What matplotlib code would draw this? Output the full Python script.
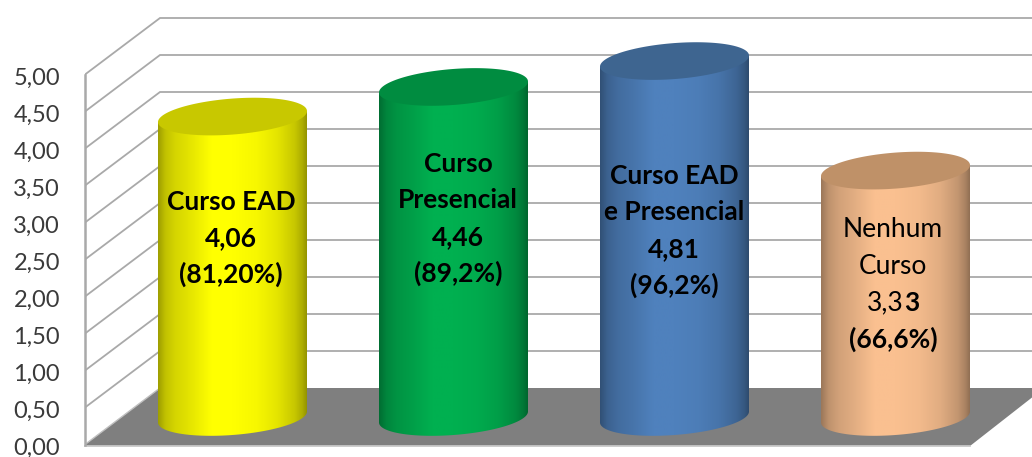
import numpy as np
import matplotlib
matplotlib.use("Agg")
import matplotlib.pyplot as plt
from matplotlib.patches import Polygon
from matplotlib.transforms import ScaledTranslation

# --- data
categories = ["Curso EAD", "Curso Presencial", "Curso EAD e Presencial", "Nenhum Curso"]
values = [4.06, 4.46, 4.81, 3.33]
tick_values = [0, .5, 1, 1.5, 2, 2.5, 3, 3.5, 4, 4.5, 5]
tick_labels = ["0,00", "0,50", "1,00", "1,50", "2,00", "2,50", "3,00", "3,50", "4,00", "4,50", "5,00"]
side_colors = ["#ffff00", "#00b050", "#4f81bd", "#fac090"]
top_colors = ["#c8c800", "#008c40", "#3e6590", "#bf9168"]
label_lines = [
    [("Curso EAD", "bold"), ("4,06", "bold"), ("(81,20%)", "bold")],
    [("Curso", "bold"), ("Presencial", "bold"), ("4,46", "bold"), ("(89,2%)", "bold")],
    [("Curso EAD", "bold"), ("e Presencial", "bold"), ("4,81", "bold"), ("(96,2%)", "bold")],
    [("Nenhum", "normal"), ("Curso", "normal"), ("3,33", "mixed"), ("(66,6%)", "bold")],
]

# --- layout (pixels of the 1032x457 picture)
W, H = 1032, 457
LEFT = 85
X0, XU = 232.5, 221.0      # first category centre, pixels per category
Y0, YU = 444.5, 74.0       # value 0 on the front edge, pixels per unit
DX, DY = 75.0, 56.5        # depth of the chart box
FONT = "Lato"

plt.rcParams["font.family"] = [FONT, "DejaVu Sans"]
fig = plt.figure(figsize=(W / 100, H / 100), dpi=100, facecolor="white")
ax = fig.add_axes([LEFT / W, 0, (W - LEFT) / W, 1])
ax.set_xlim((LEFT - X0) / XU, (W - X0) / XU)
ax.set_ylim((Y0 - H) / YU, Y0 / YU)
for s in ax.spines.values():
    s.set_visible(False)
ax.set_xticks([])
ax.set_yticks(tick_values)
ax.set_yticklabels(tick_labels, fontsize=17, color="#3a3a3a")
ax.tick_params(axis="y", length=0, pad=18)
shift = ScaledTranslation(0, -1.5 / 100, fig.dpi_scale_trans)
for lab in ax.get_yticklabels():
    lab.set_transform(lab.get_transform() + shift)

dx, dy = DX / XU, DY / YU
xl = (LEFT - X0) / XU
xr = (W - X0) / XU
GRID = "#a9a9a9"

# floor
floor = Polygon([(xl, 0), (xl + dx, dy), (xr, dy), (xr, dy - 9.5 / YU),
                 ((970 - X0) / XU, -1.5 / YU), (xl, -1.5 / YU)],
                closed=True, fc="#7f7f7f", ec="none", zorder=1)
ax.add_patch(floor)
ax.plot([xl, (970 - X0) / XU], [-1.5 / YU] * 2, color="#c8c8c8", lw=1.3, zorder=1.5, clip_on=False)

# walls and grid
for t in tick_values:
    if t > 0:
        ax.plot([xl, xl + dx, xr], [t, t + dy, t + dy], color=GRID, lw=1.3, zorder=2,
                solid_joinstyle="miter")
ax.plot([xl, xl + dx], [0, dy], color="#c0c0c0", lw=1.0, zorder=2)
ax.plot([xl, xl], [0, tick_values[-1]], color=GRID, lw=1.8, zorder=2, clip_on=False)

# cylinders
A = 74.5 / XU
B = 18.0 / YU
K = 5.5 / YU
BASE = 27.5 / YU
t_lo = np.linspace(np.pi, 0, 80)      # lower half of an ellipse, left to right
t_all = np.linspace(0, 2 * np.pi, 160)
pos = [0.0, 0.05, 0.12, 0.22, 0.36, 0.5, 0.66, 0.8, 0.92, 0.97, 1.0]
bright = [0.62, 0.76, 0.84, 0.90, 1.0, 1.0, 0.97, 0.90, 0.78, 0.68, 0.58]
grad_x = np.linspace(0, 1, 300)
grad = np.interp(grad_x, pos, bright)

for i, (v, sc, tc) in enumerate(zip(values, side_colors, top_colors)):
    cx = float(i)
    top = v + BASE
    ex = cx + A * np.cos(t_lo)
    ey_b = BASE - B * np.sin(t_lo) + K * np.cos(t_lo)
    ey_t = top + K * np.cos(t_lo[::-1])
    xs = np.r_[ex, ex[::-1]]
    ys = np.r_[ey_b, ey_t]
    body = Polygon(np.c_[xs, ys], closed=True, fc="none", ec="none", zorder=3)
    ax.add_patch(body)
    rgb = np.array(matplotlib.colors.to_rgb(sc))
    img = grad[None, :, None] * rgb[None, None, :]
    im = ax.imshow(img, extent=(cx - A, cx + A, BASE - 0.5, top + 0.5), aspect="auto",
                   zorder=3, interpolation="bilinear")
    im.set_clip_path(body)
    tx = cx + A * np.cos(t_all)
    ty = top + B * np.sin(t_all) + K * np.cos(t_all)
    ax.add_patch(Polygon(np.c_[tx, ty], closed=True, fc=tc, ec="none", zorder=4))

ax.set_xlim((LEFT - X0) / XU, (W - X0) / XU)
ax.set_ylim((Y0 - H) / YU, Y0 / YU)

# labels inside the cylinders
label_cx = [231, 458, 674, 893]
label_cy = [238, 218.5, 230.5, 284.5]
LINE = 36.4
for lines, px, py in zip(label_lines, label_cx, label_cy):
    n = len(lines)
    for j, (txt, weight) in enumerate(lines):
        y_px = py + (j - (n - 1) / 2) * LINE
        x = (px - X0) / XU
        y = (Y0 - y_px) / YU
        kw = dict(va="center", color="black", zorder=6)
        if weight == "mixed":
            ax.text(x + 11 / XU, y, txt[:-1], ha="right", fontweight="normal", fontsize=19, **kw)
            ax.text(x + 11 / XU, y, txt[-1], ha="left", fontweight="bold", fontsize=19, **kw)
        elif weight == "normal":
            ax.text(x, y, txt, ha="center", fontweight=weight, fontsize=19, **kw)
        else:
            ax.text(x, y, txt, ha="center", fontweight=weight, fontsize=19, **kw)

fig.savefig("out.png", dpi=100, facecolor="white")
